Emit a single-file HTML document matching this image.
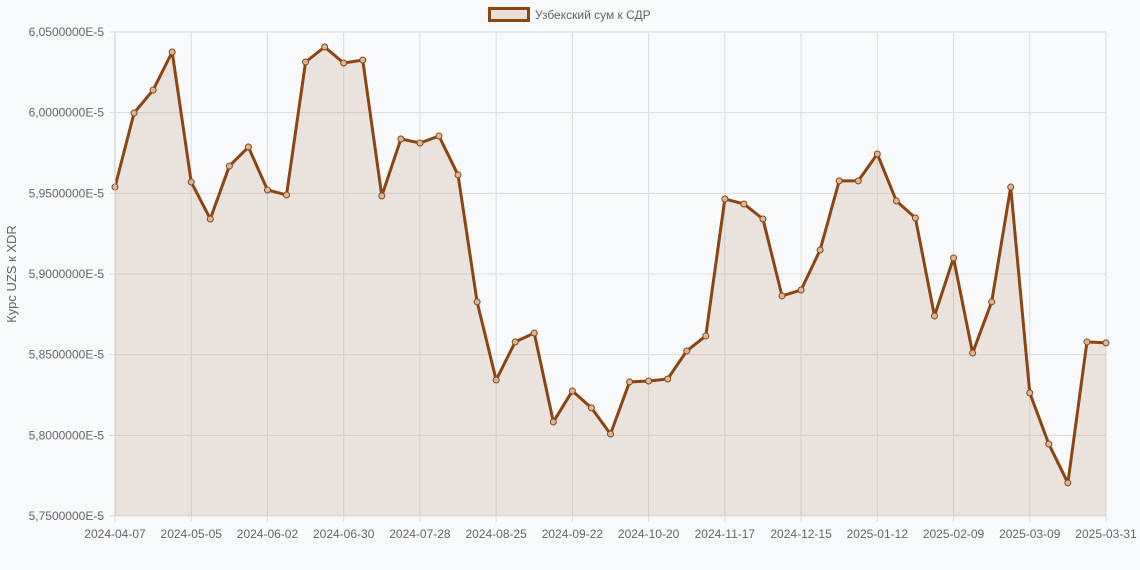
<!DOCTYPE html>
<html><head><meta charset="utf-8"><style>
html,body{margin:0;padding:0;background:#f8f9fa;}
svg{display:block;font-family:"Liberation Sans","DejaVu Sans",sans-serif;}
</style></head><body>
<svg id="chart" width="1140" height="570" viewBox="0 0 1140 570"></svg>
<script>
const tickLabels=["2024-04-07","2024-05-05","2024-06-02","2024-06-30","2024-07-28","2024-08-25","2024-09-22","2024-10-20","2024-11-17","2024-12-15","2025-01-12","2025-02-09","2025-03-09","2025-03-31"];
const tickIndex=[0,4,8,12,16,20,24,28,32,36,40,44,48,52];
const values=[5.9539,5.9998,6.0140,6.0376,5.9570,5.9341,5.9669,5.9787,5.9521,5.9490,6.0314,6.0407,6.0308,6.0326,5.9484,5.9837,5.9812,5.9855,5.9614,5.8827,5.8343,5.8579,5.8634,5.8083,5.8275,5.8170,5.8008,5.8331,5.8337,5.8349,5.8523,5.8616,5.9465,5.9434,5.9341,5.8864,5.8901,5.9149,5.9577,5.9577,5.9744,5.9453,5.9347,5.8740,5.9099,5.8510,5.8827,5.9539,5.8263,5.7946,5.7705,5.8579,5.8573];
const yTicks=[5.75,5.80,5.85,5.90,5.95,6.00,6.05];
const NS="http://www.w3.org/2000/svg";
const svg=document.getElementById('chart');
const L=115,R=1106,T=32,B=516,yMin=5.75,yMax=6.05;
const n=values.length;
const xs=i=>L+(R-L)*i/(n-1);
const ys=v=>B-(v-yMin)/(yMax-yMin)*(B-T);
function mk(tag,attrs,parent){const e=document.createElementNS(NS,tag);for(const k in attrs)e.setAttribute(k,attrs[k]);(parent||svg).appendChild(e);return e;}
// grid
const grid=mk('g',{});


yTicks.forEach(t=>{
  const y=ys(t);
  const ln=mk('line',{x1:L-6,x2:R,y1:y,y2:y,stroke:'#ddd','stroke-width':1},grid);
  
  
  const tx=mk('text',{x:104,y:y+4,'text-anchor':'end','font-size':12,fill:'#666'});
  tx.textContent=t.toFixed(7).replace('.',',').replace(/^(\d),(\d{7})$/,'$1,$2')+'E-5';
  
  
});
tickIndex.forEach((idx,k)=>{
  const x=xs(idx);
  const ln=mk('line',{x1:x,x2:x,y1:T,y2:B+6,stroke:'#ddd','stroke-width':1},grid);
  
  
  const tx=mk('text',{x:x,y:538,'text-anchor':'middle','font-size':12,fill:'#666'});
  tx.textContent=tickLabels[k];
  
  
});
// area
let d='M'+xs(0)+','+B;
values.forEach((v,i)=>{d+=' L'+xs(i)+','+ys(v);});
d+=' L'+xs(n-1)+','+B+' Z';
const area=mk('path',{d:d,fill:'rgba(139,69,19,0.12)'});


const line=mk('polyline',{points:values.map((v,i)=>xs(i)+','+ys(v)).join(' '),fill:'none',stroke:'#8B4513','stroke-width':3,'stroke-linejoin':'round'});


values.forEach((v,i)=>{
  const c=mk('circle',{cx:xs(i),cy:ys(v),r:3,fill:'#d9b89a',stroke:'#8B4513','stroke-width':1});
  
  
});
// axis lines
const ax=mk('line',{x1:L,x2:L,y1:T,y2:B,stroke:'#ccc'});


// y title
const yt=mk('text',{x:0,y:0,transform:'translate(16,274) rotate(-90)','text-anchor':'middle','font-size':13,fill:'#666'});
yt.textContent='Курс UZS к XDR';


// legend
const lg=mk('g',{});


mk('rect',{x:489.5,y:8.5,width:39,height:12,fill:'#e8e0d8',stroke:'#8B4513','stroke-width':3},lg);
const lt=mk('text',{x:535,y:19,'font-size':12,fill:'#666'},lg);
lt.textContent='Узбекский сум к СДР';
</script>
</body></html>
